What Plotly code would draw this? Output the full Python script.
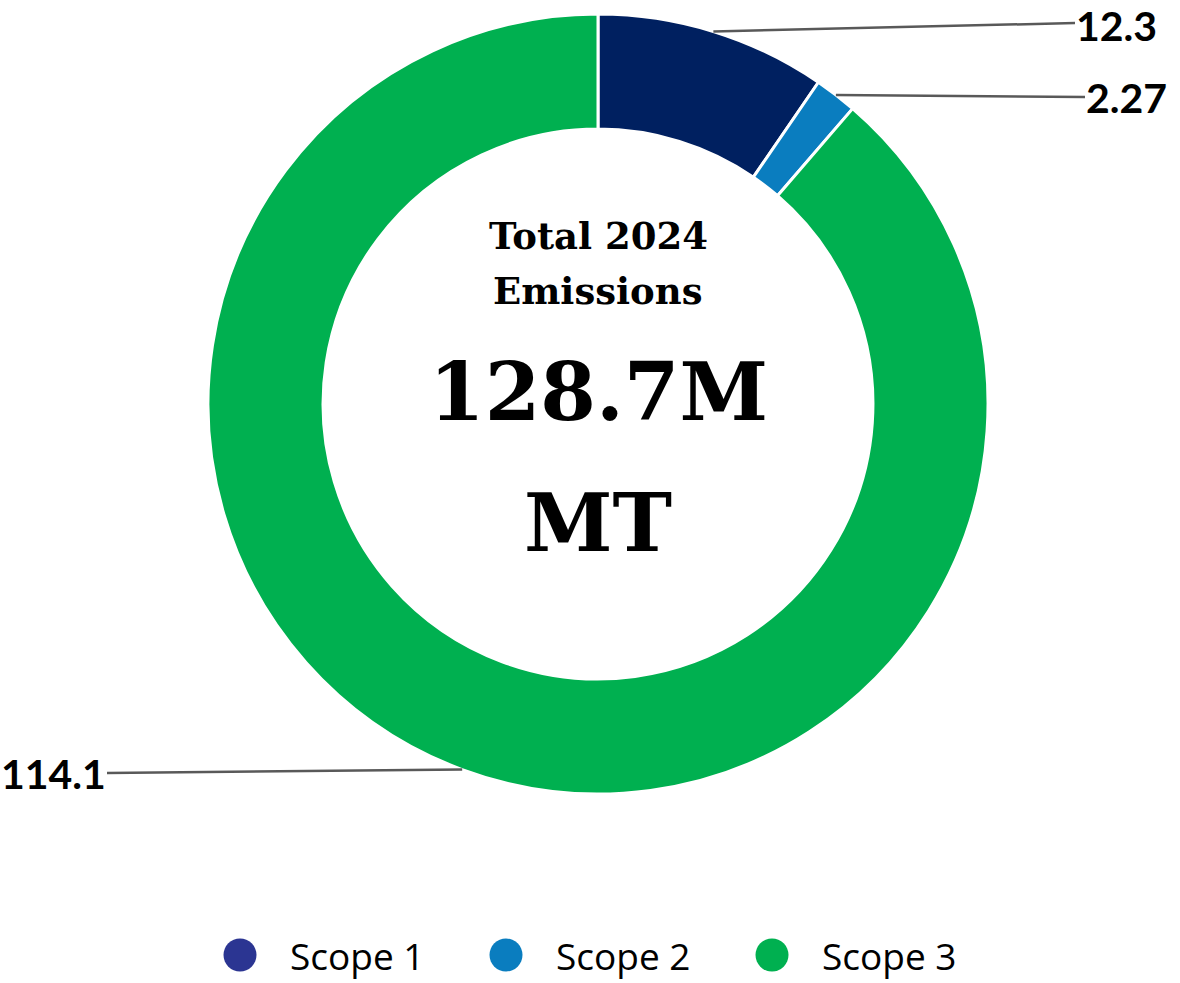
import math
import plotly.graph_objects as go

# ---- data ----
categories = ["Scope 1", "Scope 2", "Scope 3"]
values = [12.3, 2.27, 114.1]
value_labels = ["12.3", "2.27", "114.1"]
center_title = ["Total 2024", "Emissions"]
center_value = ["128.7M", "MT"]

# ---- styles ----
slice_colors = ["#002060", "#0A7DBF", "#00B050"]
legend_colors = ["#2B3592", "#0A7DBF", "#00B050"]

W, H = 1180, 983
CX, CY, R = 598, 404, 390  # donut geometry in window pixels
HOLE = 0.705


def px(x):
    return x / W


def py(y):
    return 1 - y / H


fig = go.Figure()
fig.add_trace(go.Pie(
    labels=categories, values=values, sort=False, direction="clockwise",
    rotation=0, hole=HOLE, textinfo="none", hoverinfo="label+value",
    marker=dict(colors=slice_colors, line=dict(color="white", width=3)),
    domain=dict(x=[px(CX - R), px(CX + R)], y=[py(CY + R), py(CY - R)]),
    showlegend=False,
))

# leader lines + value labels, computed from the slice mid-angles
label_end = [(1075, 23, "left"), (1085, 97, "left"), (107, 773, "right")]
total = sum(values)
cum = 0.0
shapes = []
annotations = []
for i, v in enumerate(values):
    mid = (cum + v / 2) / total * 2 * math.pi
    cum += v
    sx = CX + R * math.sin(mid)
    sy = CY - R * math.cos(mid)
    ex, ey, side = label_end[i]
    shapes.append(dict(type="line", xref="paper", yref="paper",
                       x0=px(sx), y0=py(sy), x1=px(ex), y1=py(ey),
                       line=dict(color="#595959", width=2.5)))
    annotations.append(dict(
        xref="paper", yref="paper", x=px(ex + (-1 if side == "left" else 1)),
        y=py(ey + (2 if i == 0 else 0)),
        text=f"<b>{value_labels[i]}</b>", showarrow=False,
        xanchor=side, yanchor="middle",
        font=dict(family="Lato", size=41, color="black")))

# centre text
serif = "DejaVu Serif"
for txt, yy in zip(center_title, [236, 291]):
    annotations.append(dict(xref="paper", yref="paper", x=px(CX), y=py(yy),
                            text=f"<b>{txt}</b>", showarrow=False,
                            xanchor="center", yanchor="middle",
                            font=dict(family=serif, size=37, color="black")))
for txt, yy in zip(center_value, [392, 523]):
    annotations.append(dict(xref="paper", yref="paper", x=px(CX), y=py(yy),
                            text=f"<b>{txt}</b>", showarrow=False,
                            xanchor="center", yanchor="middle",
                            font=dict(family=serif, size=80, color="black")))

# manual legend with large round markers
leg_x = [240, 506, 772]
leg_y = 955
for i, name in enumerate(categories):
    shapes.append(dict(type="circle", xref="paper", yref="paper",
                       x0=px(leg_x[i] - 16.5), x1=px(leg_x[i] + 16.5),
                       y0=py(leg_y + 16.5), y1=py(leg_y - 16.5),
                       fillcolor=legend_colors[i], line=dict(width=0)))
    annotations.append(dict(xref="paper", yref="paper", x=px(leg_x[i] + 48), y=py(leg_y),
                            text=name, showarrow=False, xanchor="left", yanchor="middle",
                            font=dict(family="Open Sans", size=37, color="black")))

fig.update_layout(
    width=W, height=H, margin=dict(l=0, r=0, t=0, b=0),
    paper_bgcolor="white", plot_bgcolor="white",
    shapes=shapes, annotations=annotations, showlegend=False,
)

fig.write_html(
    "out.html",
    config={"displayModeBar": False},
    post_script="document.body.style.margin='0';document.body.style.overflow='hidden';",
)
